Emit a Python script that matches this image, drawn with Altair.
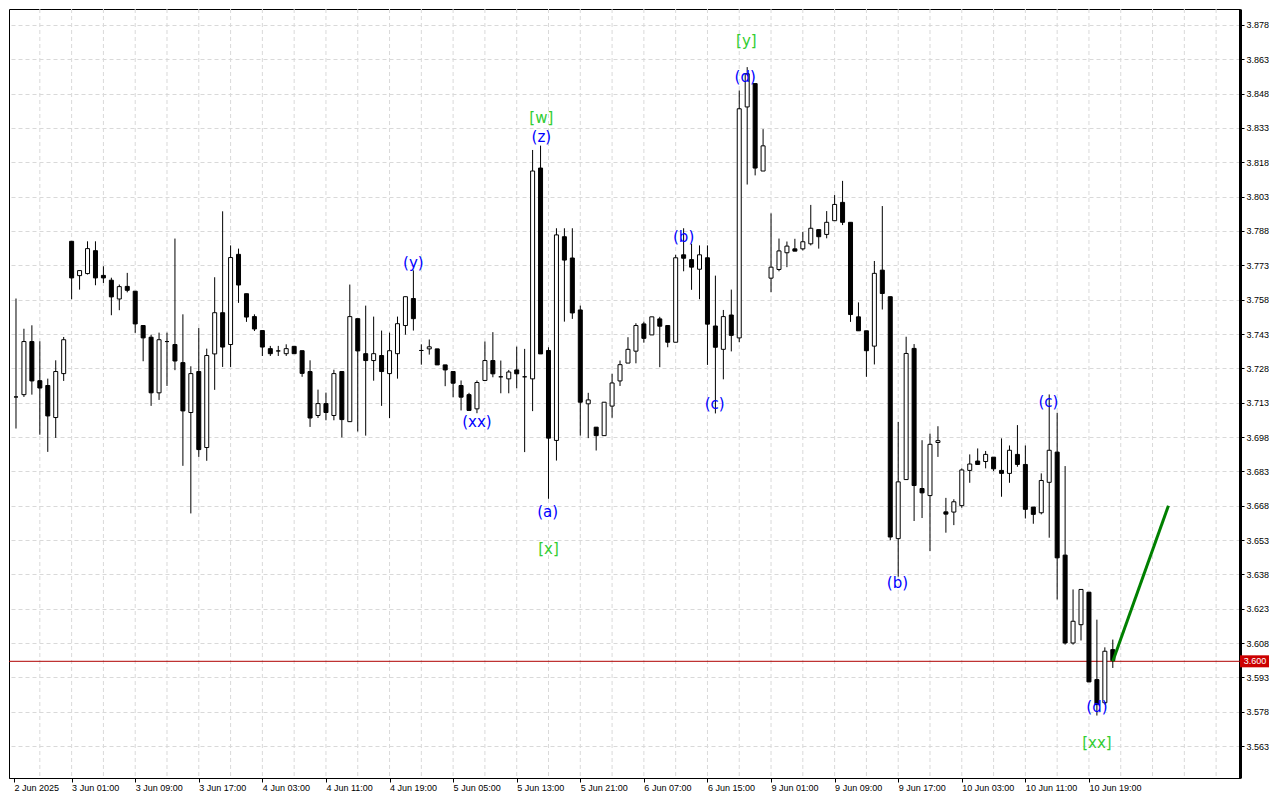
import altair as alt
import pandas as pd

# ---------------- data (hourly candles, bar index 1..139) ----------------
bar_index = list(range(1, 140))
opens = [
    3.7155, 3.7165, 3.7397, 3.7226, 3.7205, 3.7065, 3.7257, 3.7835, 3.7685, 3.7694,
    3.7794, 3.7686, 3.7665, 3.7583, 3.7638, 3.7617, 3.7467, 3.7416, 3.7173, 3.7397,
    3.7384, 3.7305, 3.7087, 3.7266, 3.6934, 3.7343, 3.7523, 3.7384, 3.7778, 3.7606,
    3.7506, 3.7445, 3.7366, 3.7356, 3.7344, 3.7376, 3.7357, 3.7266, 3.7074, 3.7126,
    3.7074, 3.7266, 3.7047, 3.7497, 3.7344, 3.7314, 3.7336, 3.7257, 3.7344, 3.7467,
    3.7585, 3.7358, 3.7365, 3.7365, 3.7295, 3.7266, 3.7205, 3.7165, 3.7103, 3.7227,
    3.7314, 3.7243, 3.7234, 3.7273, 3.7243, 3.7234, 3.8155, 3.7358, 3.6965, 3.7855,
    3.7762, 3.7535, 3.7125, 3.7023, 3.6986, 3.7115, 3.7225, 3.7303, 3.7355, 3.7474,
    3.7426, 3.7496, 3.7467, 3.7394, 3.7776, 3.7755, 3.7713, 3.7763, 3.7465, 3.7363,
    3.7513, 3.7413, 3.8422, 3.8524, 3.8142, 3.7674, 3.7712, 3.7785, 3.7802, 3.7802,
    3.7824, 3.7886, 3.7865, 3.7925, 3.8005, 3.7918, 3.7505, 3.7444, 3.7377, 3.7709,
    3.7593, 3.6536, 3.6794, 3.7367, 3.6755, 3.6724, 3.6956, 3.6653, 3.6652, 3.6680,
    3.6834, 3.6875, 3.6873, 3.6892, 3.6834, 3.6821, 3.6904, 3.6860, 3.6674, 3.6649,
    3.6782, 3.6914, 3.6464, 3.6080, 3.6160, 3.6302, 3.5920, 3.5819, 3.6051,
]
highs = [
    3.7585, 3.7453, 3.7468, 3.7398, 3.7235, 3.7315, 3.7417, 3.7835, 3.7707, 3.7835,
    3.7835, 3.7726, 3.7676, 3.7646, 3.7697, 3.7617, 3.7467, 3.7427, 3.7436, 3.7436,
    3.7847, 3.7516, 3.7289, 3.7456, 3.7366, 3.7678, 3.7966, 3.7817, 3.7803, 3.7606,
    3.7516, 3.7445, 3.7378, 3.7378, 3.7385, 3.7376, 3.7357, 3.7315, 3.7187, 3.7174,
    3.7274, 3.7266, 3.7646, 3.7497, 3.7554, 3.7506, 3.7445, 3.7436, 3.7506, 3.7593,
    3.7708, 3.7385, 3.7406, 3.7365, 3.7295, 3.7266, 3.7227, 3.7173, 3.7227, 3.7397,
    3.7438, 3.7314, 3.7273, 3.7375, 3.7365, 3.8234, 3.8253, 3.7372, 3.7892, 3.7892,
    3.7892, 3.7554, 3.7173, 3.7023, 3.7132, 3.7256, 3.7314, 3.7416, 3.7477, 3.7484,
    3.7505, 3.7505, 3.7467, 3.7776, 3.7892, 3.7824, 3.7817, 3.7817, 3.7685, 3.7535,
    3.7624, 3.8494, 3.8596, 3.8524, 3.8325, 3.7957, 3.7847, 3.7834, 3.7846, 3.7876,
    3.7994, 3.7886, 3.7967, 3.8037, 3.8099, 3.7918, 3.7568, 3.7444, 3.7749, 3.7989,
    3.7593, 3.7046, 3.7418, 3.7386, 3.6966, 3.6995, 3.7027, 3.6714, 3.6708, 3.6843,
    3.6904, 3.6930, 3.6919, 3.6892, 3.6974, 3.6943, 3.7032, 3.6943, 3.6674, 3.6821,
    3.7166, 3.7086, 3.6853, 3.6314, 3.6314, 3.6302, 3.6182, 3.6061, 3.6095,
]
lows = [
    3.7017, 3.7155, 3.7165, 3.6990, 3.6915, 3.6976, 3.7225, 3.7582, 3.7624, 3.7690,
    3.7643, 3.7653, 3.7512, 3.7534, 3.7612, 3.7435, 3.7311, 3.7116, 3.7142, 3.7203,
    3.7272, 3.6854, 3.6646, 3.6893, 3.6876, 3.7186, 3.7286, 3.7286, 3.7566, 3.7483,
    3.7443, 3.7334, 3.7334, 3.7334, 3.7334, 3.7344, 3.7243, 3.7024, 3.7063, 3.7053,
    3.7053, 3.6978, 3.7047, 3.7004, 3.6986, 3.7226, 3.7116, 3.7063, 3.7235, 3.7427,
    3.7445, 3.7296, 3.7340, 3.7295, 3.7202, 3.7154, 3.7096, 3.7096, 3.7084, 3.7227,
    3.7241, 3.7171, 3.7171, 3.7193, 3.6914, 3.7093, 3.7343, 3.6710, 3.6877, 3.7484,
    3.7496, 3.6986, 3.6975, 3.6921, 3.6986, 3.7064, 3.7203, 3.7303, 3.7302, 3.7392,
    3.7426, 3.7285, 3.7372, 3.7394, 3.7704, 3.7623, 3.7582, 3.7295, 3.7083, 3.7232,
    3.7354, 3.7394, 3.8083, 3.8123, 3.8142, 3.7613, 3.7704, 3.7722, 3.7792, 3.7795,
    3.7817, 3.7803, 3.7848, 3.7925, 3.7906, 3.7483, 3.7444, 3.7243, 3.7297, 3.7537,
    3.6529, 3.6370, 3.6794, 3.6613, 3.6626, 3.6482, 3.6893, 3.6562, 3.6595, 3.6671,
    3.6780, 3.6860, 3.6843, 3.6831, 3.6719, 3.6780, 3.6850, 3.6624, 3.6601, 3.6642,
    3.6540, 3.6270, 3.6073, 3.6073, 3.6091, 3.5910, 3.5763, 3.5811, 3.5971,
]
closes = [
    3.7155, 3.7397, 3.7225, 3.7194, 3.7072, 3.7266, 3.7405, 3.7675, 3.7707, 3.7803,
    3.7675, 3.7675, 3.7592, 3.7637, 3.7621, 3.7474, 3.7413, 3.7173, 3.7405, 3.7397,
    3.7312, 3.7094, 3.7257, 3.6925, 3.7336, 3.7523, 3.7373, 3.7764, 3.7644, 3.7504,
    3.7452, 3.7373, 3.7344, 3.7356, 3.7366, 3.7344, 3.7258, 3.7063, 3.7126, 3.7087,
    3.7257, 3.7056, 3.7506, 3.7356, 3.7314, 3.7344, 3.7266, 3.7357, 3.7475, 3.7593,
    3.7497, 3.7358, 3.7374, 3.7295, 3.7273, 3.7215, 3.7154, 3.7096, 3.7218, 3.7314,
    3.7256, 3.7243, 3.7264, 3.7256, 3.7243, 3.8142, 3.7343, 3.6975, 3.7863, 3.7753,
    3.7522, 3.7132, 3.7142, 3.6986, 3.7132, 3.7216, 3.7296, 3.7363, 3.7467, 3.7411,
    3.7505, 3.7464, 3.7394, 3.7763, 3.7761, 3.7722, 3.7776, 3.7473, 3.7372, 3.7506,
    3.7424, 3.8414, 3.8567, 3.8155, 3.8252, 3.7722, 3.7793, 3.7814, 3.7792, 3.7833,
    3.7892, 3.7855, 3.7918, 3.7996, 3.7918, 3.7515, 3.7444, 3.7357, 3.7695, 3.7607,
    3.6543, 3.6784, 3.7345, 3.6768, 3.6736, 3.6948, 3.6964, 3.6643, 3.6697, 3.6836,
    3.6862, 3.6860, 3.6904, 3.6841, 3.6821, 3.6922, 3.6860, 3.6664, 3.6642, 3.6790,
    3.6922, 3.6452, 3.6080, 3.6175, 3.6314, 3.5910, 3.5811, 3.6044, 3.6003,
]

# price axis labels
price_ticks = [3.563, 3.578, 3.593, 3.608, 3.623, 3.638, 3.653, 3.668, 3.683, 3.698,
               3.713, 3.728, 3.743, 3.758, 3.773, 3.788, 3.803, 3.818, 3.833, 3.848,
               3.863, 3.878]
# time axis labels (one every 8 bars)
time_labels = ["2 Jun 2025", "3 Jun 01:00", "3 Jun 09:00", "3 Jun 17:00", "4 Jun 03:00",
               "4 Jun 11:00", "4 Jun 19:00", "5 Jun 05:00", "5 Jun 13:00", "5 Jun 21:00",
               "6 Jun 07:00", "6 Jun 15:00", "9 Jun 01:00", "9 Jun 09:00", "9 Jun 17:00",
               "10 Jun 03:00", "10 Jun 11:00", "10 Jun 19:00"]
time_label_bars = [0.75, 8, 16, 24, 32, 40, 48, 56, 64, 72, 80, 88, 96, 104, 112, 120, 128, 136]
grid_bars = [4, 8, 12, 16, 20, 24, 28, 32, 36, 40, 44, 48, 52, 56, 60, 64, 68, 72, 76, 80,
             84, 88, 92, 96, 100, 104, 108, 112, 116, 120, 124, 128, 132, 136, 140, 144,
             148, 152]

# wave labels
wave_text = ["(y)", "(xx)", "[w]", "(z)", "(a)", "[x]", "(b)", "(c)", "(d)", "[y]",
             "(b)", "(c)", "(d)", "[xx]"]
wave_bar = [51, 59, 67.1, 67.1, 67.9, 68, 85, 88.9, 92.75, 92.9, 111.9, 130.9, 137, 137]
wave_price = [3.7740, 3.7046, 3.8374, 3.8291, 3.6652, 3.6491, 3.7854, 3.7124, 3.8553,
              3.8710, 3.6342, 3.7133, 3.5800, 3.5643]
wave_color = ["#0000ff", "#0000ff", "#32cd32", "#0000ff", "#0000ff", "#32cd32", "#0000ff",
              "#0000ff", "#0000ff", "#32cd32", "#0000ff", "#0000ff", "#0000ff", "#32cd32"]

# projected move
proj_bar = [139, 146]
proj_price = [3.600, 3.668]
last_price = 3.600

# ---------------- chart ----------------
TOTAL_W, TOTAL_H = 1261, 784
xs = alt.Scale(domain=[0.75, 154.375], nice=False, zero=False)
ys = alt.Scale(domain=[3.54902, 3.88499], nice=False, zero=False)
FONT = "Liberation Sans"

candles = pd.DataFrame({"i": bar_index, "open": opens, "high": highs,
                        "low": lows, "close": closes})
candles["dir"] = ["up" if c >= o else "down" for o, c in zip(opens, closes)]

label_expr = "[" + ",".join("'%s'" % t for t in time_labels) + "][round(datum.value / 8)]"

x_axis = alt.Axis(values=time_label_bars, labelExpr=label_expr, grid=False,
                  domainColor="black", domainWidth=1, tickColor="black", tickSize=4,
                  labelAlign="left", labelPadding=1, labelFont=FONT, labelFontSize=9,
                  labelColor="black", labelOverlap=False, labelFlush=False, title=None)
y_axis = alt.Axis(orient="right", values=price_ticks, format=".3f", grid=True,
                  gridColor="#d9d9d9", gridDash=[4, 3], gridWidth=1,
                  domainColor="black", domainWidth=3, tickColor="black", tickSize=4,
                  labelFont=FONT, labelFontSize=9, labelColor="black", labelPadding=2,
                  labelOverlap=False, labelBound=False, labelFlush=False, title=None)


def X(field):
    return alt.X(field, scale=xs, axis=x_axis, title=None)


def Y(field):
    return alt.Y(field, scale=ys, axis=y_axis, title=None)


base = alt.Chart(candles)

vgrid = alt.Chart(pd.DataFrame({"g": grid_bars})).mark_rule(
    color="#d9d9d9", strokeDash=[4, 3], strokeWidth=1
).encode(x=X("g:Q"))

price_line = alt.Chart(pd.DataFrame({"p": [last_price]})).mark_rule(
    color="#b00000", strokeWidth=1
).encode(y=Y("p:Q"))

wicks = base.mark_rule(color="black", strokeWidth=1).encode(
    x=X("i:Q"), y=Y("low:Q"), y2="high:Q")

bodies = base.mark_bar(size=4, stroke="black", strokeWidth=1).encode(
    x=X("i:Q"),
    y=Y("open:Q"),
    y2="close:Q",
    fill=alt.Fill("dir:N", scale=alt.Scale(domain=["up", "down"], range=["white", "black"]),
                  legend=None),
)

waves = alt.Chart(pd.DataFrame({"i": wave_bar, "p": wave_price, "t": wave_text,
                                "c": wave_color})).mark_text(
    font="DejaVu Sans", fontSize=15, baseline="middle", align="center"
).encode(x=X("i:Q"), y=Y("p:Q"), text="t:N", color=alt.Color("c:N", scale=None))

proj = alt.Chart(pd.DataFrame({"i": proj_bar, "p": proj_price})).mark_line(
    color="#008000", strokeWidth=3
).encode(x=X("i:Q"), y=Y("p:Q"))

tag_df = pd.DataFrame({"p": [last_price], "t": ["%.3f" % last_price]})
tag = alt.Chart(tag_df).mark_rule(color="#cc0000", strokeWidth=12, strokeCap="butt").encode(
    y=Y("p:Q"), x=alt.value(1231), x2=alt.value(1261))
tag_text = alt.Chart(tag_df).mark_text(
    color="white", font=FONT, fontSize=9, align="center", baseline="middle"
).encode(y=Y("p:Q"), x=alt.value(1246), text="t:N")

chart = alt.layer(vgrid, price_line, wicks, bodies, proj, waves, tag, tag_text).properties(
    width=TOTAL_W, height=TOTAL_H, padding=0, background="white",
    autosize=alt.AutoSizeParams(type="fit", contains="padding"),
).configure_view(stroke="black", strokeWidth=1)

chart.save("out.html", embed_options={"renderer": "svg", "actions": False})
